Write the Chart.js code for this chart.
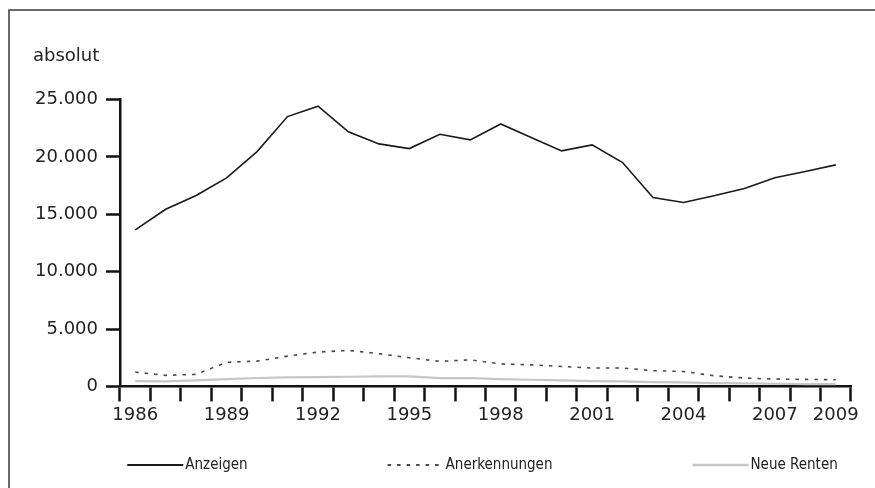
<!DOCTYPE html>
<html>
<head>
<meta charset="utf-8">
<script src="https://cdn.jsdelivr.net/npm/chart.js@4/dist/chart.umd.min.js"></script>
<style>
  html, body { margin: 0; padding: 0; background: #fff; }
  #wrap { width: 875px; height: 488px; position: relative; }
</style>
</head>
<body>
<div id="wrap"><canvas id="c" width="875" height="488"></canvas></div>
<script>
const years = [1986,1987,1988,1989,1990,1991,1992,1993,1994,1995,1996,1997,1998,1999,2000,2001,2002,2003,2004,2005,2006,2007,2008,2009];
const shownYears = [1986,1989,1992,1995,1998,2001,2004,2007,2009];
const anzeigen = [13650,15440,16640,18180,20470,23520,24420,22190,21140,20730,21980,21490,22880,21700,20530,21050,19510,16460,16030,16620,17250,18180,18730,19310];
const anerkennungen = [1250,960,1050,2100,2200,2640,2990,3140,2850,2500,2180,2320,1950,1880,1740,1600,1600,1370,1300,930,730,640,610,580];
const neueRenten = [460,430,520,640,730,780,810,840,870,870,730,730,640,580,520,460,430,380,350,290,260,230,200,200];
const yTicks = [0,5000,10000,15000,20000,25000];
const yTitle = 'absolut';
const seriesNames = ['Anzeigen','Anerkennungen','Neue Renten'];

function fmt(v){ return String(v).replace(/\B(?=(\d{3})+(?!\d))/g, '.'); }

const frame = {
  id: 'frame',
  afterDraw(chart) {
    const ctx = chart.ctx;
    ctx.save();
    ctx.strokeStyle = '#3a3a3a';
    ctx.lineWidth = 1.5;
    ctx.beginPath();
    ctx.moveTo(9, 900); ctx.lineTo(9, 10); ctx.lineTo(900, 10);
    ctx.stroke();
    ctx.restore();
  }
};

const customLegend = {
  id: 'customLegend',
  afterDraw(chart) {
    const ctx = chart.ctx;
    const area = chart.chartArea;
    const sample = 56, textGap = 2, itemGap = 140;
    ctx.save();
    ctx.font = '15px "Liberation Sans Narrow", "DejaVu Sans Condensed", sans-serif';
    const ds = chart.data.datasets;
    const widths = ds.map(d => sample + textGap + ctx.measureText(d.label).width);
    const total = widths.reduce((a,b)=>a+b,0) + itemGap*(ds.length-1);
    let x = (area.left + area.right)/2 - total/2 - 3;
    const y = 465;
    ds.forEach((d,i) => {
      ctx.save();
      ctx.strokeStyle = d.borderColor;
      ctx.lineWidth = d.borderWidth + 0.3;
      ctx.setLineDash(d.borderDash || []);
      ctx.beginPath();
      ctx.moveTo(x, y); ctx.lineTo(x + sample, y);
      ctx.stroke();
      ctx.restore();
      ctx.fillStyle = '#222';
      ctx.textBaseline = 'middle';
      ctx.textAlign = 'left';
      ctx.fillText(d.label, x + sample + textGap, y);
      x += widths[i] + itemGap;
    });
    ctx.restore();
  }
};

const tickFont = { family: '"DejaVu Sans", sans-serif', size: 18 };

new Chart(document.getElementById('c'), {
  type: 'line',
  data: {
    labels: years,
    datasets: [
      { label: seriesNames[0], data: anzeigen, borderColor: '#1a1a1a', borderWidth: 1.6, pointRadius: 0, tension: 0, fill: false },
      { label: seriesNames[1], data: anerkennungen, borderColor: '#4a4a4a', borderWidth: 1.6, borderDash: [3.5, 6], pointRadius: 0, tension: 0, fill: false },
      { label: seriesNames[2], data: neueRenten, borderColor: '#c6c6c6', borderWidth: 2.2, pointRadius: 0, tension: 0, fill: false }
    ]
  },
  options: {
    responsive: false,
    animation: false,
    layout: { padding: { left: 33, right: 24, top: 10, bottom: 59 } },
    plugins: {
      legend: { display: false },
      tooltip: { enabled: false },
      title: {
        display: true, text: yTitle, align: 'start', color: '#222',
        font: { family: '"DejaVu Sans", sans-serif', size: 18, weight: 'normal', lineHeight: 1.2 },
        padding: { top: 36, bottom: 32 }
      }
    },
    scales: {
      x: {
        type: 'category',
        offset: true,
        grid: { offset: true, drawOnChartArea: false, drawTicks: true, tickLength: 15, tickWidth: 2.5, tickColor: '#111' },
        border: { display: true, color: '#111', width: 2.5 },
        ticks: {
          autoSkip: false, maxRotation: 0, padding: 3, color: '#222',
          font: tickFont,
          callback: function(v, i) { const y = years[i]; return shownYears.includes(y) ? String(y) : ''; }
        }
      },
      y: {
        min: 0, max: 25000,
        afterBuildTicks: (s) => { s.ticks = yTicks.map(v => ({ value: v })); },
        afterFit: (s) => { s.width = 87; },
        grid: { drawOnChartArea: false, drawTicks: true, tickLength: 14, tickWidth: 2.5, tickColor: '#111' },
        border: { display: true, color: '#111', width: 2.5 },
        ticks: {
          padding: 8, color: '#222',
          font: tickFont,
          callback: (v) => fmt(v)
        }
      }
    }
  },
  plugins: [frame, customLegend]
});
</script>
</body>
</html>
